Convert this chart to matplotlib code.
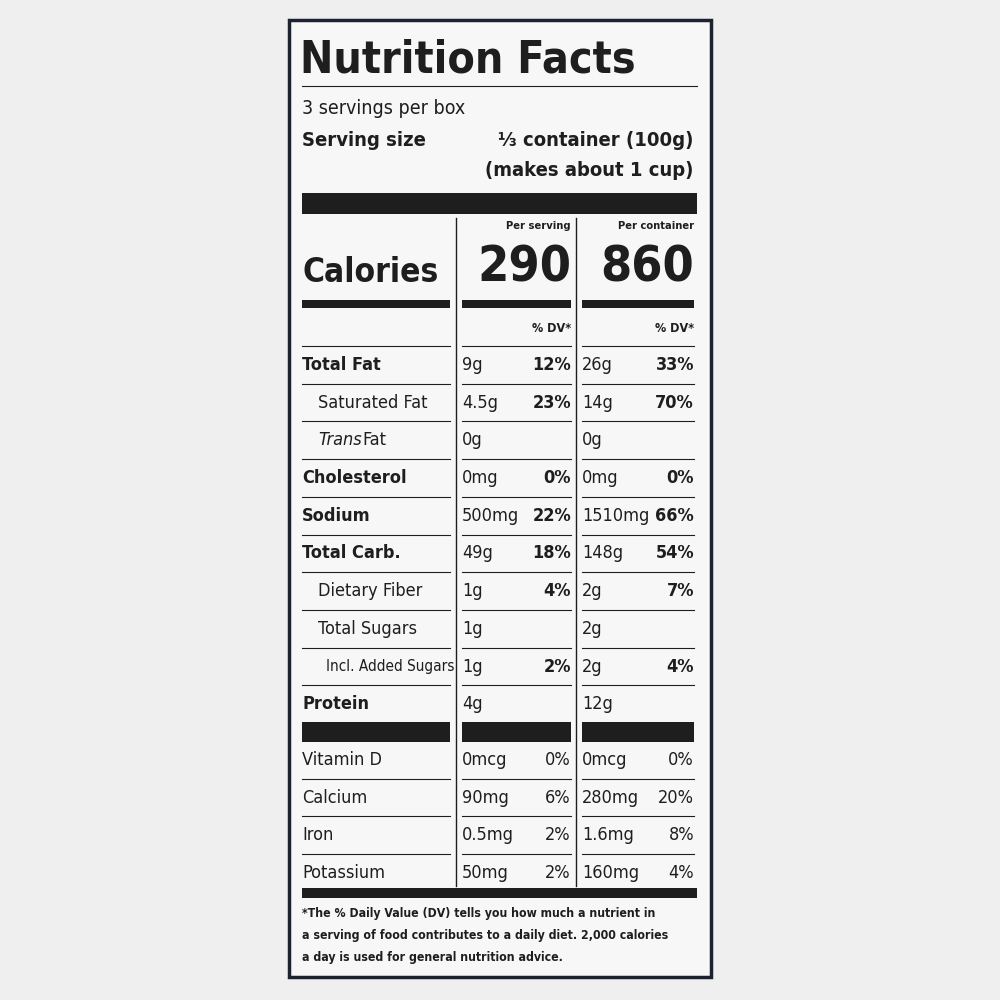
import matplotlib
matplotlib.use("Agg")
import matplotlib.pyplot as plt

# label data
nutrients = ["Total Fat", "Saturated Fat", "Trans Fat", "Cholesterol", "Sodium",
             "Total Carb.", "Dietary Fiber", "Total Sugars", "Incl. Added Sugars", "Protein"]
indent = [0, 1, 1, 0, 0, 0, 1, 1, 2, 0]
bold = [1, 0, 0, 1, 1, 1, 0, 0, 0, 1]
serv_amt = ["9g", "4.5g", "0g", "0mg", "500mg", "49g", "1g", "1g", "1g", "4g"]
serv_dv = ["12%", "23%", "", "0%", "22%", "18%", "4%", "", "2%", ""]
cont_amt = ["26g", "14g", "0g", "0mg", "1510mg", "148g", "2g", "2g", "2g", "12g"]
cont_dv = ["33%", "70%", "", "0%", "66%", "54%", "7%", "", "4%", ""]

vitamins = ["Vitamin D", "Calcium", "Iron", "Potassium"]
vit_serv = ["0mcg", "90mg", "0.5mg", "50mg"]
vit_serv_dv = ["0%", "6%", "2%", "2%"]
vit_cont = ["0mcg", "280mg", "1.6mg", "160mg"]
vit_cont_dv = ["0%", "20%", "8%", "4%"]

footnote = ["*The % Daily Value (DV) tells you how much a nutrient in",
            "a serving of food contributes to a daily diet. 2,000 calories",
            "a day is used for general nutrition advice."]

plt.rcParams['font.family'] = ["DejaVu Sans"]
INK = "#1e1e1e"

fig = plt.figure(figsize=(10, 10), dpi=100)
fig.patch.set_facecolor("#efefef")
ax = fig.add_axes([0, 0, 1, 1])
ax.set_xlim(0, 1000)
ax.set_ylim(1000, 0)
ax.axis("off")

ax.add_patch(plt.Rectangle((289, 20), 422, 957, fc="#f7f7f7", ec="#1c2230", lw=2.5))

L, R = 302, 697
c1, c1r, c2, c2r = 462, 571, 582, 694

def bar(y0, y1, x0=L, x1=R):
    ax.add_patch(plt.Rectangle((x0, y0), x1 - x0, y1 - y0, fc=INK, ec="none"))

def hline(y, x0=L, x1=R, lw=0.8):
    ax.plot([x0, x1], [y, y], color=INK, lw=lw)

def txt(x, y, s, size=13, ha="left", weight="normal", **kw):
    ax.text(x, y, s, fontsize=size, ha=ha, va="center", weight=weight, color=INK,
            fontstretch="condensed", **kw)

txt(L - 2, 60, "Nutrition Facts", size=32, weight="bold")
hline(86)
txt(L, 108, "3 servings per box", size=14)
txt(L, 140, "Serving size", size=14.5, weight="bold")
txt(693, 140, "⅓ container (100g)", size=14.5, weight="bold", ha="right")
txt(693, 171, "(makes about 1 cup)", size=14.5, weight="bold", ha="right")
bar(193, 214)

for x in (456, 576):
    ax.plot([x, x], [218, 886], color=INK, lw=1)

txt(c1r, 226, "Per serving", size=8, ha="right", weight="bold")
txt(c2r, 226, "Per container", size=8, ha="right", weight="bold")
txt(L, 273, "Calories", size=24, weight="bold")
txt(c1r, 267, "290", size=36, weight="bold", ha="right")
txt(c2r, 267, "860", size=36, weight="bold", ha="right")
for a, b in ((L, 450), (c1, c1r), (c2, R - 3)):
    bar(300, 308, a, b)
txt(c1r, 328, "% DV*", size=9, ha="right", weight="bold")
txt(c2r, 328, "% DV*", size=9, ha="right", weight="bold")

y = 365
for i, n in enumerate(nutrients):
    hline(y - 19, L, 450)
    hline(y - 19, c1, c1r)
    hline(y - 19, c2, R - 3)
    if n == "Trans Fat":
        txt(L + 16, y, "Trans", style="italic")
        txt(L + 60, y, "Fat")
    else:
        sz = 11 if indent[i] == 2 else 13
        txt(L + (0, 16, 24)[indent[i]], y, n, size=sz,
            weight="bold" if bold[i] else "normal")
    txt(c1, y, serv_amt[i])
    txt(c1r, y, serv_dv[i], weight="bold", ha="right")
    txt(c2, y, cont_amt[i])
    txt(c2r, y, cont_dv[i], weight="bold", ha="right")
    y += 37.7

for a, b in ((L, 450), (c1, c1r), (c2, R - 3)):
    bar(722, 742, a, b)

y = 760
for i, n in enumerate(vitamins):
    if i > 0:
        hline(y - 19, L, 450)
        hline(y - 19, c1, c1r)
        hline(y - 19, c2, R - 3)
    txt(L, y, n)
    txt(c1, y, vit_serv[i])
    txt(c1r, y, vit_serv_dv[i], ha="right")
    txt(c2, y, vit_cont[i])
    txt(c2r, y, vit_cont_dv[i], ha="right")
    y += 37.7

bar(888, 898)
for i, s in enumerate(footnote):
    txt(L, 914 + 21.5 * i, s, size=8.8, weight="bold")

fig.savefig("out.png", dpi=100, facecolor=fig.get_facecolor())
